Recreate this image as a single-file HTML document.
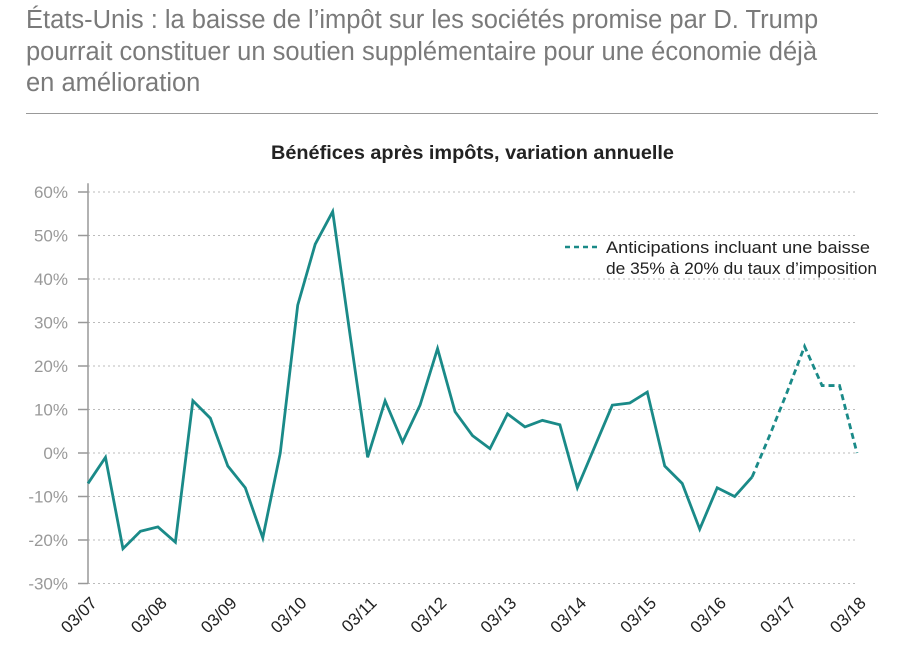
<!DOCTYPE html>
<html><head><meta charset="utf-8"><style>
body{margin:0;background:#fff;width:904px;height:666px;overflow:hidden;font-family:"Liberation Sans",sans-serif}
#t{position:absolute;left:26px;top:5px;width:880px;font-family:"Liberation Sans",sans-serif;font-size:25.5px;line-height:31.5px;color:#7a7a7a;white-space:nowrap}
#rule{position:absolute;left:26px;top:113px;width:852px;height:1px;background:#999}
</style></head><body>
<div id="t">États-Unis : la baisse de l’impôt sur les sociétés promise par D. Trump<br>pourrait constituer un soutien supplémentaire pour une économie déjà<br>en amélioration</div>
<div id="rule"></div>
<svg id="c" width="904" height="666" style="position:absolute;left:0;top:0">
<text x="271" y="159" textLength="403" lengthAdjust="spacingAndGlyphs" font-size="19" font-weight="bold" fill="#222">Bénéfices après impôts, variation annuelle</text>
<g id="grid"></g><g id="axes"></g><g id="series"></g>
<g>
<line x1="565" y1="247" x2="601" y2="247" stroke="#1a8a88" stroke-width="2.5" stroke-dasharray="5,4"/>
<text x="606" y="253" textLength="264" lengthAdjust="spacingAndGlyphs" font-size="17" fill="#222">Anticipations incluant une baisse</text>
<text x="606" y="274" textLength="271" lengthAdjust="spacingAndGlyphs" font-size="17" fill="#222">de 35% à 20% du taux d’imposition</text>
</g>
</svg>
<script>
const yTicks=[60,50,40,30,20,10,0,-10,-20,-30];
const xLabels=["03/07","03/08","03/09","03/10","03/11","03/12","03/13","03/14","03/15","03/16","03/17","03/18"];
const actual=[-7,-1,-22,-18,-17,-20.5,12,8,-3,-8,-19.5,0,34,48,55.5,27,-1,12,2.5,11,24,9.5,4,1,9,6,7.5,6.5,-8,1.5,11,11.5,14,-3,-7,-17.5,-8,-10,-5.5];
const forecast=[-5.5,4,14,24.5,15.5,15.5,0];
const ns="http://www.w3.org/2000/svg";
const X0=88,X1=857,NQ=44;
const xs=i=>X0+(X1-X0)*i/NQ;
const ys=v=>453-v*4.35;
function mk(tag,attrs,parent){const e=document.createElementNS(ns,tag);for(const k in attrs)e.setAttribute(k,attrs[k]);document.getElementById(parent).appendChild(e);return e;}
yTicks.forEach(v=>{
 const g=mk('line',{x1:X0,x2:857,y1:ys(v),y2:ys(v),stroke:'#bbb','stroke-width':1,'stroke-dasharray':'2,3'},'grid');
 
 
 const tk=mk('line',{x1:78,x2:X0,y1:ys(v),y2:ys(v),stroke:'#999','stroke-width':1.5},'axes');
 
 
 const t=mk('text',{x:68,y:ys(v)+6,'text-anchor':'end','font-size':17,fill:'#999'},'axes');
 t.textContent=v+'%';
 
 
});
const ax=mk('line',{x1:X0,x2:X0,y1:ys(62),y2:ys(-30),stroke:'#999','stroke-width':1.5},'axes');


xLabels.forEach((l,i)=>{
 const x=xs(i*4);
 const t=mk('text',{x:x+10,y:604,'text-anchor':'end','font-size':17,fill:'#222',transform:`rotate(-45 ${x+10} 604)`},'axes');
 t.textContent=l;
 
 
});
const p1=mk('polyline',{points:actual.map((v,i)=>xs(i)+','+ys(v)).join(' '),fill:'none',stroke:'#1a8a88','stroke-width':2.8,'stroke-linejoin':'miter'},'series');


const off=actual.length-1;
const p2=mk('polyline',{points:forecast.map((v,i)=>xs(i+off)+','+ys(v)).join(' '),fill:'none',stroke:'#1a8a88','stroke-width':2.8,'stroke-dasharray':'6,4'},'series');


</script>
</body></html>
